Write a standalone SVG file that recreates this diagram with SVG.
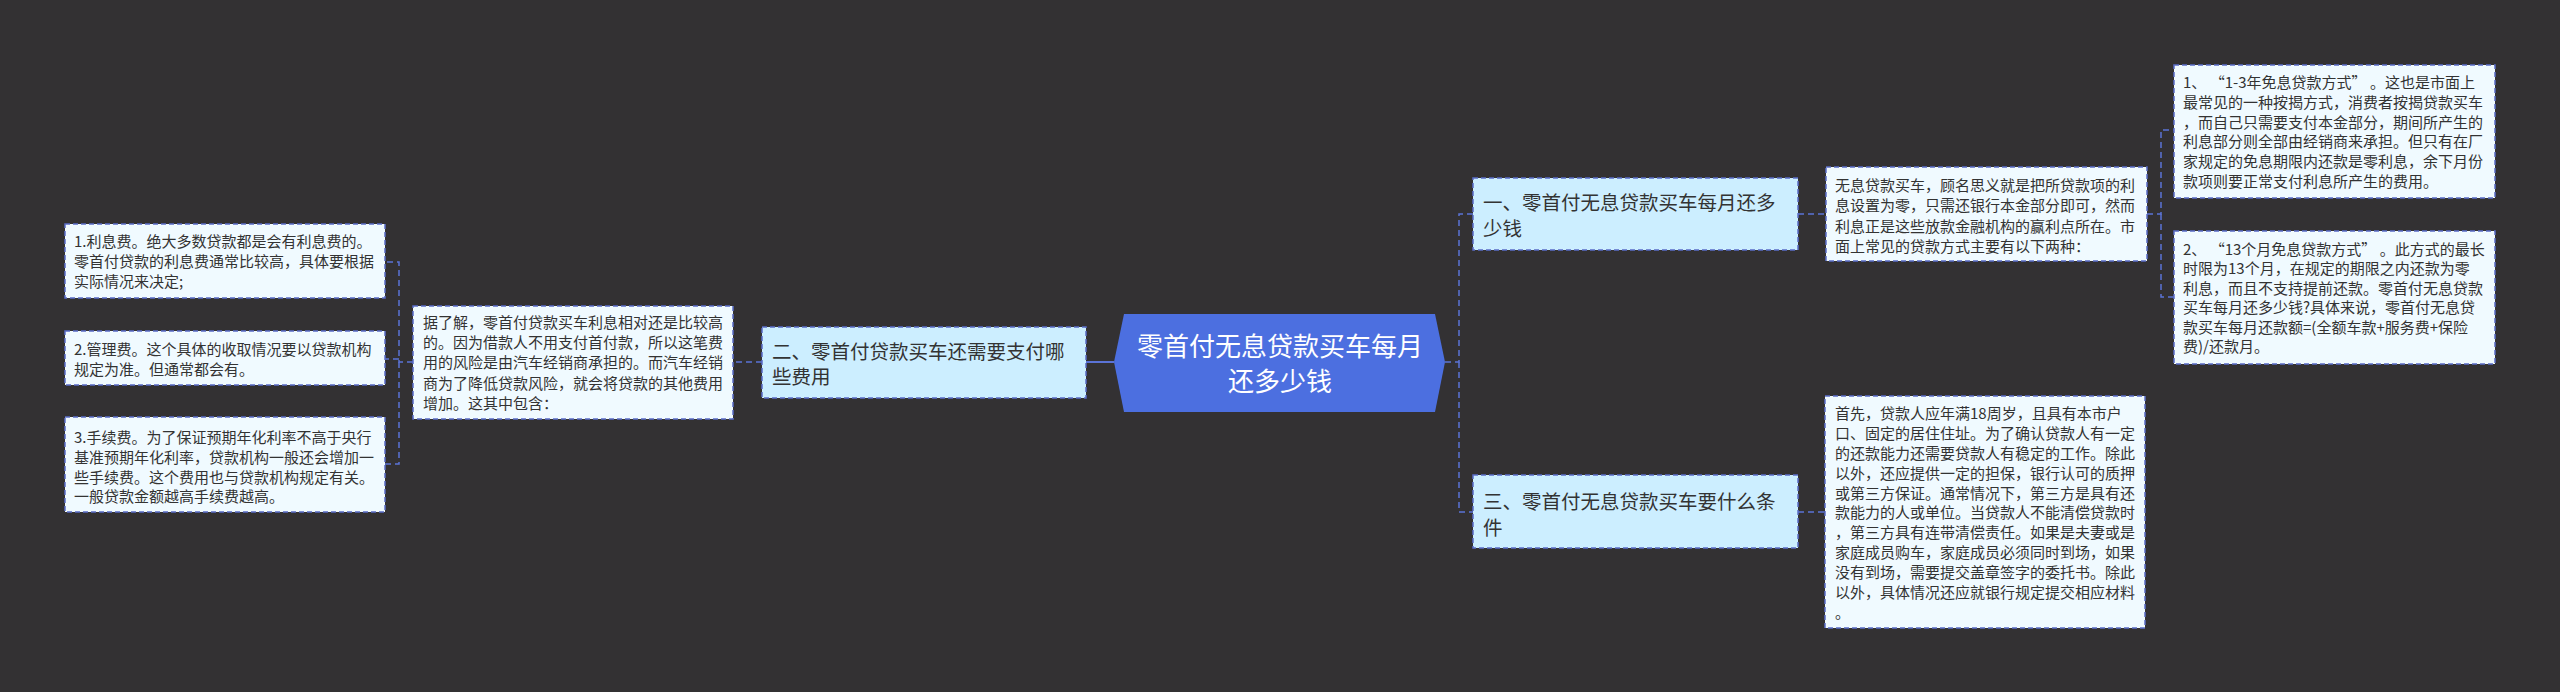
<svg xmlns="http://www.w3.org/2000/svg" width="2560" height="692" viewBox="0 0 2560 692">
<style>
text{font-family:"Microsoft YaHei","Noto Sans CJK SC","Noto Sans",sans-serif;fill:#333333}
.leaf{fill:#F0FAFF;stroke:#5A6CC8;stroke-width:1.5;stroke-dasharray:5 3}
.branch{fill:#CCEEFF;stroke:#5A6CC8;stroke-width:1.5;stroke-dasharray:5 3}
.lt{font-size:15px}
.bt{font-size:19.5px}
.rt{font-size:26px;fill:#FFFFFF;text-anchor:middle}
.conn{fill:none;stroke:#5B73D6;stroke-width:1.5;stroke-dasharray:6 4}
.solid{fill:none;stroke:#5B73D6;stroke-width:2}
</style>
<rect width="2560" height="692" fill="#333133"/>
<g id="connectors">
<path class="solid" d="M1114 362 H1086"/>
<path class="conn" d="M1445 362 H1459 V214 H1473"/>
<path class="conn" d="M1459 362 V512 H1473"/>
<path class="conn" d="M1798 214 H1826"/>
<path class="conn" d="M1798 512 H1825"/>
<path class="conn" d="M2147 214 H2161 V130 H2174"/>
<path class="conn" d="M2161 214 V297 H2174"/>
<path class="conn" d="M762 362 H733"/>
<path class="conn" d="M413 362 H399 V262 H385"/>
<path class="conn" d="M399 362 V464 H385"/>
<path class="conn" d="M399 359 H385"/>
</g>
<g id="root">
<polygon points="1124,314 1435,314 1445,362 1435,412 1124,412 1114,362" fill="#4C6FE0"/>
<text class="rt" x="1280" y="356">零首付无息贷款买车每月</text>
<text class="rt" x="1280" y="391">还多少钱</text>
</g>
<g id="branch1">
<rect class="branch" x="1473" y="178" width="325" height="72"/>
<text class="bt" x="1483" y="210">一、零首付无息贷款买车每月还多</text>
<text class="bt" x="1483" y="236">少钱</text>
</g>
<g id="branch3">
<rect class="branch" x="1473" y="475" width="325" height="73"/>
<text class="bt" x="1483" y="509">三、零首付无息贷款买车要什么条</text>
<text class="bt" x="1483" y="535">件</text>
</g>
<g id="branch2">
<rect class="branch" x="762" y="327" width="324" height="71"/>
<text class="bt" x="772" y="359">二、零首付贷款买车还需要支付哪</text>
<text class="bt" x="772" y="384">些费用</text>
</g>
<g id="leafA">
<rect class="leaf" x="1826" y="167" width="321" height="94"/>
<text class="lt" x="1835" y="191">无息贷款买车，顾名思义就是把所贷款项的利</text>
<text class="lt" x="1835" y="211">息设置为零，只需还银行本金部分即可，然而</text>
<text class="lt" x="1835" y="232">利息正是这些放款金融机构的赢利点所在。市</text>
<text class="lt" x="1835" y="252">面上常见的贷款方式主要有以下两种：</text>
</g>
<g id="leafB">
<rect class="leaf" x="2174" y="65" width="321" height="133"/>
<text class="lt" x="2183" y="88">1、 “1-3年免息贷款方式” 。这也是市面上</text>
<text class="lt" x="2183" y="108">最常见的一种按揭方式，消费者按揭贷款买车</text>
<text class="lt" x="2183" y="128">，而自己只需要支付本金部分，期间所产生的</text>
<text class="lt" x="2183" y="147">利息部分则全部由经销商来承担。但只有在厂</text>
<text class="lt" x="2183" y="167">家规定的免息期限内还款是零利息，余下月份</text>
<text class="lt" x="2183" y="187">款项则要正常支付利息所产生的费用。</text>
</g>
<g id="leafC">
<rect class="leaf" x="2174" y="231" width="321" height="133"/>
<text class="lt" x="2183" y="255">2、 “13个月免息贷款方式” 。此方式的最长</text>
<text class="lt" x="2183" y="274">时限为13个月，在规定的期限之内还款为零</text>
<text class="lt" x="2183" y="294">利息，而且不支持提前还款。零首付无息贷款</text>
<text class="lt" x="2183" y="313">买车每月还多少钱?具体来说，零首付无息贷</text>
<text class="lt" x="2183" y="333">款买车每月还款额=(全额车款+服务费+保险</text>
<text class="lt" x="2183" y="352">费)/还款月。</text>
</g>
<g id="leafD">
<rect class="leaf" x="1825" y="396" width="320" height="232"/>
<text class="lt" x="1835" y="419">首先，贷款人应年满18周岁，且具有本市户</text>
<text class="lt" x="1835" y="439">口、固定的居住住址。为了确认贷款人有一定</text>
<text class="lt" x="1835" y="459">的还款能力还需要贷款人有稳定的工作。除此</text>
<text class="lt" x="1835" y="479">以外，还应提供一定的担保，银行认可的质押</text>
<text class="lt" x="1835" y="499">或第三方保证。通常情况下，第三方是具有还</text>
<text class="lt" x="1835" y="518">款能力的人或单位。当贷款人不能清偿贷款时</text>
<text class="lt" x="1835" y="538">，第三方具有连带清偿责任。如果是夫妻或是</text>
<text class="lt" x="1835" y="558">家庭成员购车，家庭成员必须同时到场，如果</text>
<text class="lt" x="1835" y="578">没有到场，需要提交盖章签字的委托书。除此</text>
<text class="lt" x="1835" y="598">以外，具体情况还应就银行规定提交相应材料</text>
<text class="lt" x="1835" y="618">。</text>
</g>
<g id="leafE">
<rect class="leaf" x="413" y="306" width="320" height="113"/>
<text class="lt" x="423" y="328">据了解，零首付贷款买车利息相对还是比较高</text>
<text class="lt" x="423" y="348">的。因为借款人不用支付首付款，所以这笔费</text>
<text class="lt" x="423" y="368">用的风险是由汽车经销商承担的。而汽车经销</text>
<text class="lt" x="423" y="389">商为了降低贷款风险，就会将贷款的其他费用</text>
<text class="lt" x="423" y="409">增加。这其中包含：</text>
</g>
<g id="leaf1">
<rect class="leaf" x="65" y="224" width="320" height="74"/>
<text class="lt" x="74" y="247">1.利息费。绝大多数贷款都是会有利息费的。</text>
<text class="lt" x="74" y="267">零首付贷款的利息费通常比较高，具体要根据</text>
<text class="lt" x="74" y="287">实际情况来决定;</text>
</g>
<g id="leaf2">
<rect class="leaf" x="65" y="331" width="320" height="54"/>
<text class="lt" x="74" y="355">2.管理费。这个具体的收取情况要以贷款机构</text>
<text class="lt" x="74" y="375">规定为准。但通常都会有。</text>
</g>
<g id="leaf3">
<rect class="leaf" x="65" y="417" width="320" height="95"/>
<text class="lt" x="74" y="443">3.手续费。为了保证预期年化利率不高于央行</text>
<text class="lt" x="74" y="463">基准预期年化利率，贷款机构一般还会增加一</text>
<text class="lt" x="74" y="483">些手续费。这个费用也与贷款机构规定有关。</text>
<text class="lt" x="74" y="502">一般贷款金额越高手续费越高。</text>
</g>
</svg>
